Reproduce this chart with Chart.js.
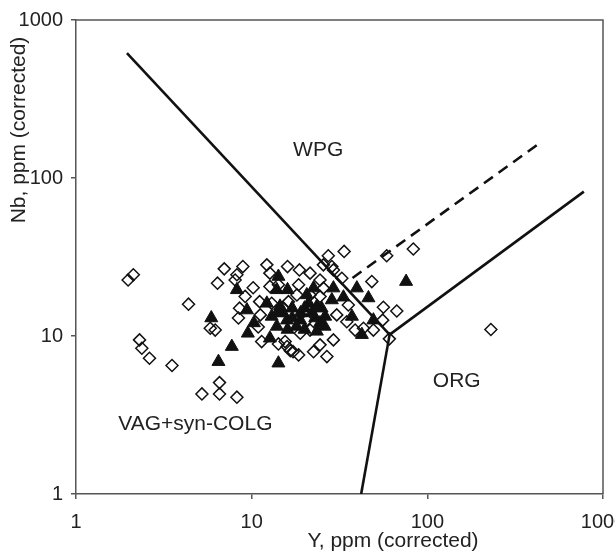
<!DOCTYPE html>
<html>
<head>
<meta charset="utf-8">
<script src="https://cdn.jsdelivr.net/npm/chart.js@4.4.1/dist/chart.umd.min.js"></script>
<style>
  html,body{margin:0;padding:0;background:#fff;}
  canvas{display:block;}
</style>
</head>
<body>
<canvas id="nbY" width="615" height="551"></canvas>
<script>
// samples: Y (ppm) and Nb (ppm), open diamonds
const diaY  = [1.98,2.12,4.37,6.98,8.91,6.39,8.05,8.24,12.2,10.2,9.18,8.53,8.41,5.81,6.2,2.30,2.37,2.62,3.52,6.56,5.21,6.56,8.24,15.5,11.4,17.2,
               33.6,27.3,28.6,25.6,58.7,48.3,56.2,67,55.7,60.8,16.0,18.7,21.5,24.5,32.6,29.2,18.5,12.7,11.1,11.2,10.9,14.2,15.9,16.6,18.5,22.5,24.5,26.8,
               29.2,30.5,34.8,38.8,43.3,49.3,35.5,15.2,13.0,16.2,18.1,21.5,24.5,25.6,20.6,21.5,18.9,12.7,14.2,83.2,230];
const diaNb = [22.6,24.4,15.9,26.6,27.5,21.6,22.6,24.4,28.2,20.2,17.8,15.0,13.0,11.2,10.9,9.45,8.37,7.23,6.5,5.07,4.30,4.30,4.10,9.22,9.22,7.96,
               34.3,32.2,27.5,28.2,32.2,22.1,15.2,14.4,12.6,9.59,27.5,26.2,25.0,22.6,23.2,26.2,21.1,20.6,16.5,13.6,11.4,8.91,8.57,8.08,7.59,7.96,8.79,7.41,
               9.45,13.6,12.3,10.9,11.2,10.9,15.7,15.0,16.1,16.5,18.2,18.2,17.8,20.1,12.6,10.9,10.4,25.0,21.1,35.5,11.0];
// filled triangles
const triY  = [5.89,7.71,6.47,8.24,14.2,14.2,9.51,10.3,9.4,13.9,16.0,12.2,14.5,13.0,15.9,13.9,12.7,20.6,22.5,21.1,23.5,23.0,24.5,26.2,23.5,
               28.6,29.2,33.3,39.7,46.2,37.2,49.3,42.4,18.9,75.7,15,17,17,19,20,22,18,20,16,14,25,26];
const triNb = [13.0,8.57,6.88,19.6,6.73,23.8,10.4,12.1,14.6,19.6,19.6,16.1,15.4,13.3,12.6,11.5,9.68,18.2,20.1,16.1,15.4,13.0,12.1,13.3,10.7,
               16.9,20.1,17.6,20.1,17.4,13.3,12.6,10.2,12.6,22.1,14,13,15,14,15,14,11.5,11,11,14,15,11.5];
// field boundaries
const wpgY = [1.95, 61],  wpgNb = [618, 10.2];
const orgLowY = [42, 61], orgLowNb = [1, 10.2];
const orgUpY = [61, 778], orgUpNb = [10.2, 82];
const dashY = [37.5, 432], dashNb = [23.3, 165];
const tickVals = [1, 10, 100, 1000];
const fieldLabels = ['WPG', 'ORG', 'VAG+syn-COLG'];
const fieldY  = [23.9, 147, 4.78];
const fieldNb = [151, 5.2, 2.77];

const FONT = "'Liberation Sans', Arial, sans-serif";
const pts = (xs, ys) => xs.map((x, i) => ({x: x, y: ys[i]}));
const boundary = (xs, ys, dash) => ({
  data: pts(xs, ys), showLine: true, pointRadius: 0, borderColor: '#111',
  borderWidth: 2.6, borderDash: dash || [], fill: false
});

const frame = {
  id: 'frame',
  beforeDatasetsDraw(chart) {
    const {ctx, chartArea: a} = chart;
    ctx.save();
    ctx.strokeStyle = '#555';
    ctx.lineWidth = 1.5;
    ctx.beginPath();
    ctx.moveTo(a.left, a.top); ctx.lineTo(a.right, a.top); ctx.lineTo(a.right, a.bottom);
    ctx.stroke();
    ctx.restore();
  },
  afterDatasetsDraw(chart) {
    const {ctx, scales: {x, y}} = chart;
    ctx.save();
    ctx.fillStyle = '#222';
    ctx.font = '21px ' + FONT;
    ctx.textAlign = 'center';
    ctx.textBaseline = 'middle';
    fieldLabels.forEach((t, i) => ctx.fillText(t, x.getPixelForValue(fieldY[i]), y.getPixelForValue(fieldNb[i])));
    // axis titles
    ctx.fillText('Y, ppm (corrected)', 393, 541);
    ctx.translate(19, 130);
    ctx.rotate(-Math.PI / 2);
    ctx.fillText('Nb, ppm (corrected)', 0, 0);
    ctx.restore();
  }
};

const logTicks = s => { s.ticks = tickVals.map(v => ({value: v})); };

new Chart(document.getElementById('nbY'), {
  type: 'scatter',
  data: {
    datasets: [
      {data: pts(triY, triNb), pointStyle: 'triangle', pointRadius: 7.5, backgroundColor: '#111', borderColor: '#111', borderWidth: 1},
      {data: pts(diaY, diaNb), pointStyle: 'rectRot', pointRadius: 6, backgroundColor: 'rgba(0,0,0,0)', borderColor: '#111', borderWidth: 1.5},
      boundary(wpgY, wpgNb),
      boundary(orgLowY, orgLowNb),
      boundary(orgUpY, orgUpNb),
      boundary(dashY, dashNb, [11, 7])
    ]
  },
  options: {
    responsive: false,
    animation: false,
    layout: {padding: {top: 20, right: 12, left: 0, bottom: 0}},
    plugins: {legend: {display: false}, tooltip: {enabled: false}},
    scales: {
      x: {
        type: 'logarithmic', min: 1, max: 1000,
        afterBuildTicks: logTicks,
        afterFit: s => { s.height = 57; s.paddingLeft = 0; s.paddingRight = 0; },
        grid: {drawOnChartArea: false, tickLength: 5, color: '#555', lineWidth: 1.5},
        border: {color: '#555', width: 1.5},
        ticks: {color: '#222', font: {size: 20, family: FONT}, padding: 11, maxRotation: 0, autoSkip: false, callback: v => String(v)}
      },
      y: {
        type: 'logarithmic', min: 1, max: 1000,
        afterBuildTicks: logTicks,
        afterFit: s => { s.width = 76; s.paddingTop = 0; s.paddingBottom = 0; },
        grid: {drawOnChartArea: false, tickLength: 5, color: '#555', lineWidth: 1.5},
        border: {color: '#555', width: 1.5},
        ticks: {color: '#222', font: {size: 20, family: FONT}, padding: 8, autoSkip: false, callback: v => String(v)}
      }
    }
  },
  plugins: [frame]
});
</script>
</body>
</html>
